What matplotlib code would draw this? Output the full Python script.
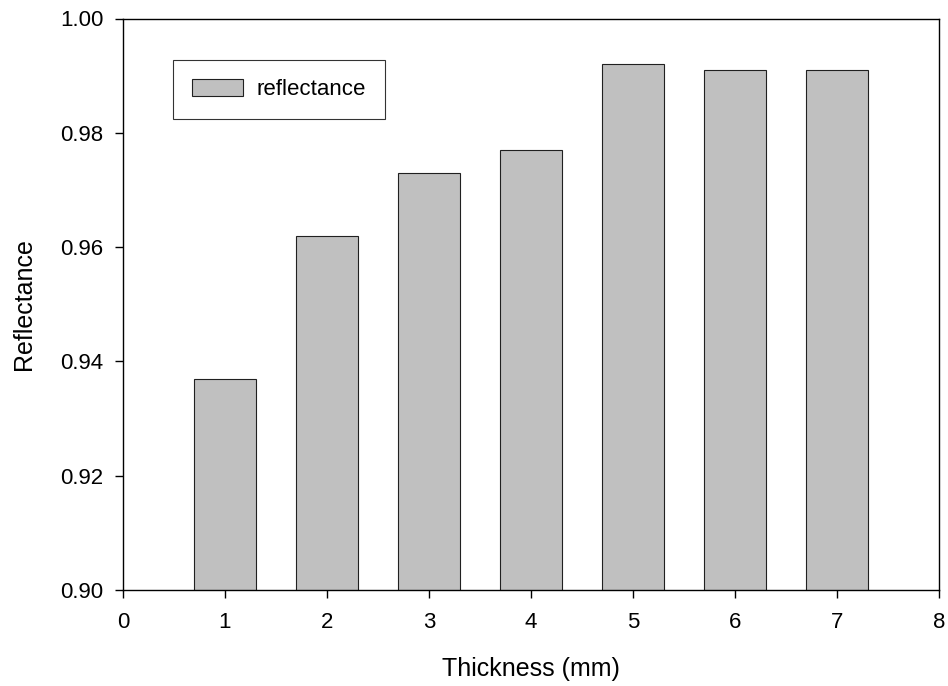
import matplotlib
matplotlib.use("Agg")
import matplotlib.pyplot as plt

plt.rcParams['font.family'] = ['Liberation Sans', 'DejaVu Sans']

thickness = [1, 2, 3, 4, 5, 6, 7]
reflectance = [0.937, 0.962, 0.973, 0.977, 0.992, 0.991, 0.991]
xticks = [0, 1, 2, 3, 4, 5, 6, 7, 8]
yticks = [0.90, 0.92, 0.94, 0.96, 0.98, 1.00]

fig = plt.figure(figsize=(9.48, 6.86), dpi=100)
ax = fig.add_axes([123/948, 1-590/686, (939-123)/948, (590-18.5)/686])
ax.bar(thickness, reflectance, width=0.6, color='#c0c0c0', edgecolor='#202020',
       linewidth=0.8, label='reflectance', bottom=0)
ax.set_xlim(0, 8)
ax.set_ylim(0.90, 1.00)
ax.set_xticks(xticks)
ax.set_yticks(yticks)
ax.set_yticklabels([f"{v:.2f}" for v in yticks])
ax.tick_params(direction='out', length=6, width=1, labelsize=16)
ax.tick_params(axis='y', pad=8, right=False)
ax.tick_params(axis='x', pad=10, top=False)
for s in ax.spines.values():
    s.set_linewidth(1)
ax.set_xlabel('Thickness (mm)', fontsize=18)
ax.set_ylabel('Reflectance', fontsize=18)
ax.xaxis.set_label_coords(0.5, (590-657)/571.5)
ax.yaxis.set_label_coords((36-123)/816, 0.5)
leg = ax.legend(loc='upper left', bbox_to_anchor=((173-123)/816, (590-60)/571.5),
                frameon=True, fancybox=False, fontsize=16, handlelength=2.3,
                handleheight=0.8, borderpad=0.85, borderaxespad=0, handletextpad=0.6)
leg.get_frame().set_edgecolor('black')
leg.get_frame().set_linewidth(0.8)
fig.savefig('out.png', dpi=100)
